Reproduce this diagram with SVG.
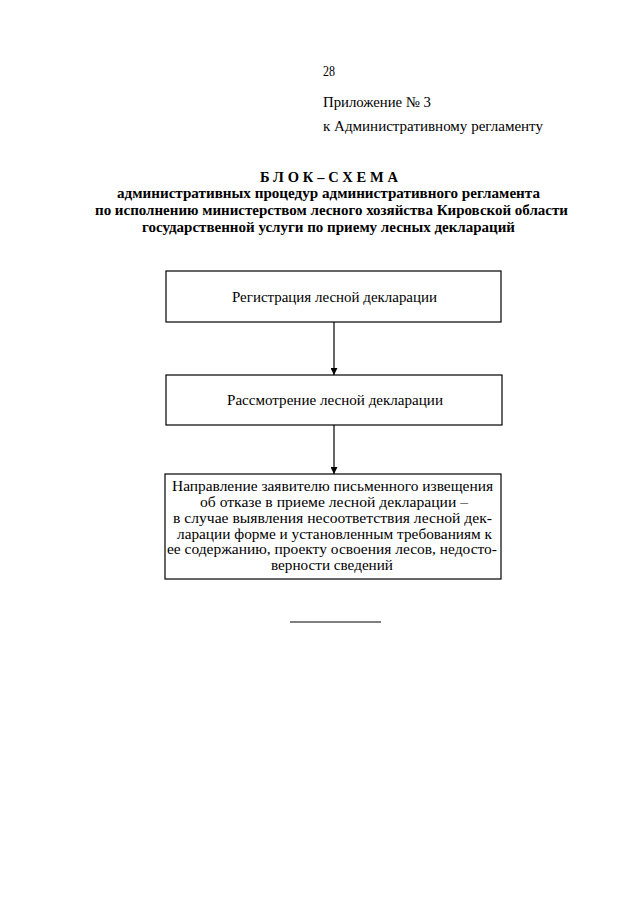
<svg xmlns="http://www.w3.org/2000/svg" width="640" height="905" viewBox="0 0 640 905">
<defs>
<style>
.t{font-family:"Liberation Serif","Times New Roman",serif;font-size:15px;fill:#000}
.h{font-family:"Liberation Serif","Times New Roman",serif;font-size:14.5px;font-weight:bold;fill:#000}
.b{fill:#fff;stroke:#000;stroke-width:1.2}
.c{stroke:#000;stroke-width:1.2;fill:none}
</style>
<marker id="ar" viewBox="0 0 10 10" refX="10" refY="5" markerWidth="7" markerHeight="7" orient="auto" markerUnits="userSpaceOnUse">
<path d="M0,0 L10,5 L0,10 z" fill="#000"/>
</marker>
</defs>
<rect width="640" height="905" fill="#fff"/>
<g id="header">
<text class="t" x="323" y="76" textLength="12" lengthAdjust="spacingAndGlyphs">28</text>
<text class="t" x="323" y="107" textLength="108" lengthAdjust="spacingAndGlyphs">Приложение № 3</text>
<text class="t" x="323" y="131" textLength="220" lengthAdjust="spacingAndGlyphs">к Административному регламенту</text>
<text class="h" x="260" y="182" textLength="138" lengthAdjust="spacing">БЛОК–СХЕМА</text>
<text class="h" x="117" y="198" textLength="423" lengthAdjust="spacingAndGlyphs">административных процедур административного регламента</text>
<text class="h" x="95" y="215" textLength="473" lengthAdjust="spacingAndGlyphs">по исполнению министерством лесного хозяйства Кировской области</text>
<text class="h" x="142" y="232" textLength="373" lengthAdjust="spacingAndGlyphs">государственной услуги по приему лесных деклараций</text>
</g>
<g id="node1">
<rect class="b" x="166" y="271" width="335" height="51"/>
<text class="t" x="232" y="302" textLength="205" lengthAdjust="spacingAndGlyphs">Регистрация лесной декларации</text>
</g>
<g id="node2">
<rect class="b" x="166" y="375" width="336" height="50"/>
<text class="t" x="227" y="405" textLength="216" lengthAdjust="spacingAndGlyphs">Рассмотрение лесной декларации</text>
</g>
<g id="node3">
<rect class="b" x="165" y="474" width="336" height="105"/>
<text class="t" x="172" y="491" textLength="321" lengthAdjust="spacingAndGlyphs">Направление заявителю письменного извещения</text>
<text class="t" x="200" y="507" textLength="268" lengthAdjust="spacingAndGlyphs">об отказе в приеме лесной декларации –</text>
<text class="t" x="173" y="523" textLength="319" lengthAdjust="spacingAndGlyphs">в случае выявления несоответствия лесной дек-</text>
<text class="t" x="177" y="539" textLength="315" lengthAdjust="spacingAndGlyphs">ларации форме и установленным требованиям к</text>
<text class="t" x="167" y="554" textLength="330" lengthAdjust="spacingAndGlyphs">ее содержанию, проекту освоения лесов, недосто-</text>
<text class="t" x="271" y="570" textLength="122" lengthAdjust="spacingAndGlyphs">верности сведений</text>
</g>
<g id="connectors">
<line class="c" x1="334" y1="322" x2="334" y2="375" marker-end="url(#ar)"/>
<line class="c" x1="334" y1="425" x2="334" y2="474" marker-end="url(#ar)"/>
</g>
<line x1="290" y1="622" x2="381" y2="622" stroke="#000" stroke-width="1"/>
</svg>
